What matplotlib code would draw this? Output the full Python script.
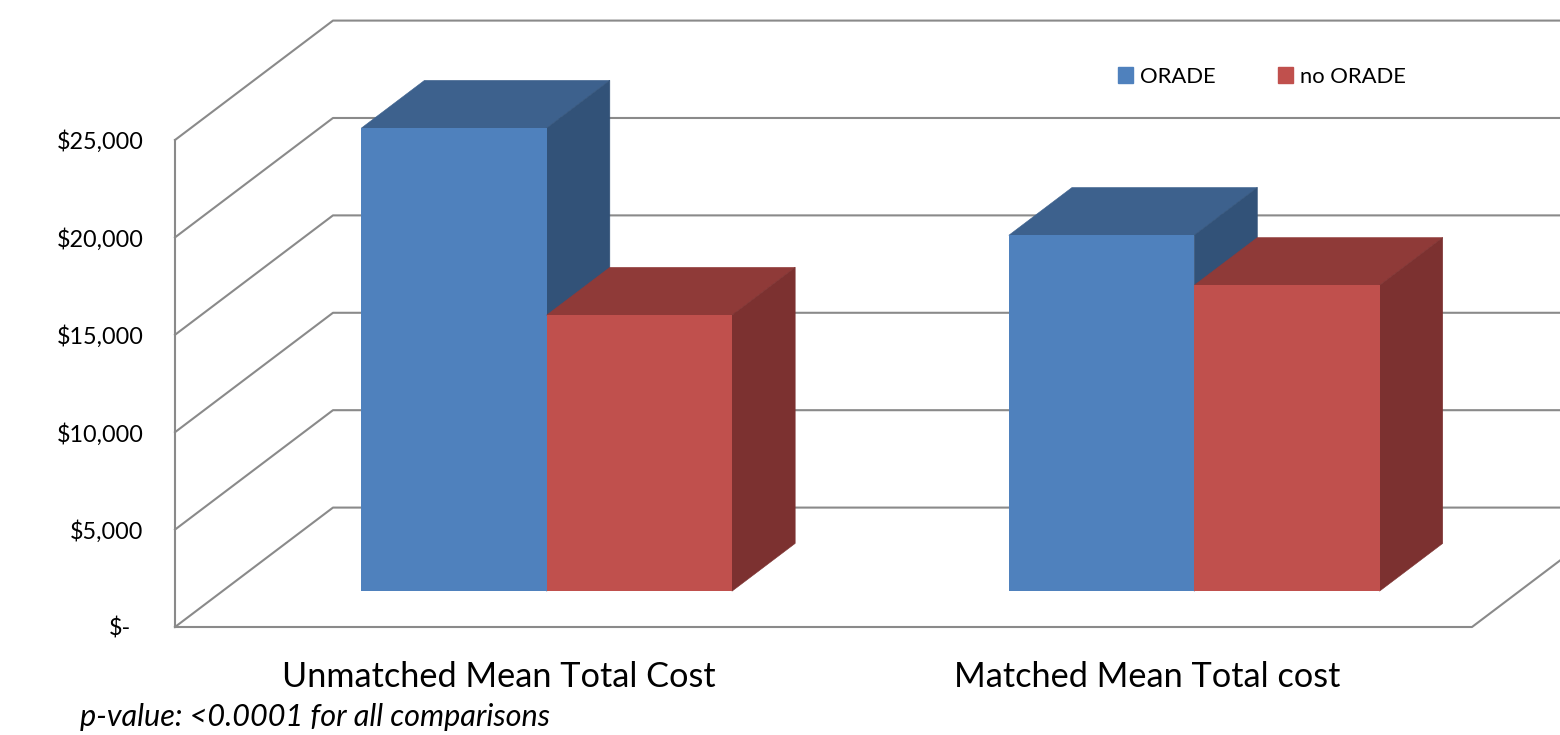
"""3D-look clustered bars: mean total cost, ORADE vs no ORADE."""
import matplotlib
matplotlib.use("Agg")
import matplotlib.pyplot as plt
from matplotlib.patches import Patch
from matplotlib.transforms import ScaledTranslation

plt.rcParams["font.family"] = ["Lato", "DejaVu Sans"]

categories = ["Unmatched Mean Total Cost", "Matched Mean Total cost"]
series_names = ["ORADE", "no ORADE"]
orade = [23770, 18270]
no_orade = [14170, 15700]
y_ticks = [0, 5000, 10000, 15000, 20000, 25000]
y_labels = ["$-", "$5,000", "$10,000", "$15,000", "$20,000", "$25,000"]
note = "p-value: <0.0001 for all comparisons"

# oblique projection: how far the back wall sits from the front plane
DEPTH_X = 0.2436   # category units
DEPTH_Y = 6130     # dollars
BAR_W = 0.2858
BAR_D0, BAR_D1 = 0.30, 0.70
CENTERS = [0.5, 1.4985]

GRID = "#8a8a8a"
BLUE = ("#4f81bd", "#3d618d", "#325278")   # front, top, side
RED = ("#c0504d", "#8f3a38", "#7c3130")


def proj(x, y, d):
    return x + d * DEPTH_X, y + d * DEPTH_Y


def draw_bar(ax, left, value, cols, z):
    # side first so the front face covers the seam
    right = left + BAR_W
    top = [proj(left, value, BAR_D0), proj(right, value, BAR_D0),
           proj(right, value, BAR_D1), proj(left, value, BAR_D1)]
    side = [proj(right, 0, BAR_D0), proj(right, value, BAR_D0),
            proj(right, value, BAR_D1), proj(right, 0, BAR_D1)]
    ax.fill(*zip(*top), facecolor=cols[1], edgecolor=cols[1], lw=0.4, clip_on=False, zorder=z)
    ax.fill(*zip(*side), facecolor=cols[2], edgecolor=cols[2], lw=0.4, clip_on=False, zorder=z)
    # front face goes through the regular bar call, shifted to its depth
    fx, fy = proj(left, 0, BAR_D0)
    ax.bar(fx, value, BAR_W, bottom=fy, align="edge", color=cols[0], clip_on=False, zorder=z)


fig = plt.figure(figsize=(15.6, 7.35), dpi=100)
ax = fig.add_axes([175 / 1560, 1 - 627 / 735, (1472 - 175) / 1560, (627 - 140) / 735])
ax.set_xlim(0, len(categories))
ax.set_ylim(0, 25000)

# wall and floor lines
for t in y_ticks:
    bx, by = proj(0, t, 1)
    ax.plot([0, bx, len(categories) + DEPTH_X], [t, by, by], color=GRID, lw=1.5, clip_on=False, zorder=1)
ax.plot([0, 0], [0, 25000], color=GRID, lw=1.5, clip_on=False, zorder=1)
rx, ry = proj(len(categories), 0, 1)
ax.plot([0, len(categories), rx], [0, 0, ry], color=GRID, lw=1.5, clip_on=False, zorder=1)

for i, c in enumerate(CENTERS):
    draw_bar(ax, c - BAR_W, orade[i], BLUE, 3)
    draw_bar(ax, c, no_orade[i], RED, 4)

for s in ax.spines.values():
    s.set_visible(False)
ax.set_yticks(y_ticks)
ax.set_yticklabels(y_labels, fontsize=16.8)
ax.set_xticks(CENTERS)
ax.set_xticklabels(categories, fontsize=24.7)
ax.tick_params(axis="y", length=0, pad=22.7)
ax.tick_params(axis="x", length=0, pad=24.8)
# the "$-" label sits further in than the others
lab0 = ax.get_yticklabels()[0]
lab0.set_transform(lab0.get_transform() + ScaledTranslation(-8.6 / 72, 0, fig.dpi_scale_trans))

fig.legend(handles=[Patch(color=BLUE[0], label=series_names[0]), Patch(color=RED[0], label=series_names[1])],
           ncol=2, frameon=False, fontsize=15.8, loc="upper left", bbox_to_anchor=(1098 / 1560, 1 - 47 / 735),
           handlelength=0.7, handleheight=0.7, handletextpad=0.3, columnspacing=2.85)

fig.text(80 / 1560, 1 - 717 / 735, note, fontsize=22.1, style="italic", va="center", ha="left")

fig.savefig("out.png", dpi=100)
